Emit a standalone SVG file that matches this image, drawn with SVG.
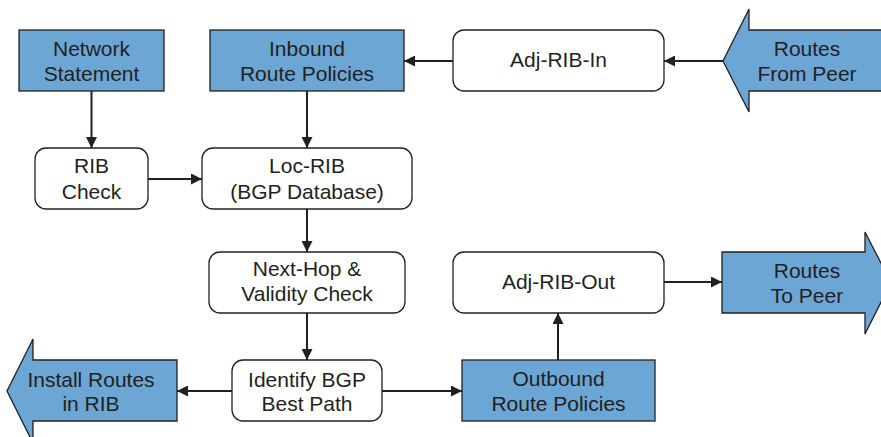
<svg xmlns="http://www.w3.org/2000/svg" width="881" height="437" viewBox="0 0 881 437">
<defs>
<marker id="ah" viewBox="0 0 11 11" refX="11" refY="5.5" markerWidth="11" markerHeight="11" markerUnits="userSpaceOnUse" orient="auto">
<path d="M0,0 L11,5.5 L0,11 Z" fill="#231f20"/>
</marker>
<style>
.blue{fill:#6ba6d5;stroke:#231f20;stroke-width:1.3}
.box{fill:#ffffff;stroke:#231f20;stroke-width:1.3}
.t{font-family:"Liberation Sans",Arial,sans-serif;font-size:21px;fill:#231f20;text-anchor:middle}
.c{fill:none;stroke:#231f20;stroke-width:2;marker-end:url(#ah)}
</style>
</defs>
<rect width="881" height="437" fill="#ffffff"/>
<g id="connectors">
<line class="c" x1="91.5" y1="91" x2="91.5" y2="148"/>
<line class="c" x1="307" y1="91" x2="307" y2="148"/>
<line class="c" x1="453" y1="61" x2="404" y2="61"/>
<line class="c" x1="723" y1="61" x2="664" y2="61"/>
<line class="c" x1="148" y1="179" x2="202" y2="179"/>
<line class="c" x1="307" y1="209" x2="307" y2="252"/>
<line class="c" x1="307" y1="313" x2="307" y2="360"/>
<line class="c" x1="232" y1="391" x2="177" y2="391"/>
<line class="c" x1="382" y1="391" x2="462" y2="391"/>
<line class="c" x1="558" y1="360" x2="558" y2="313"/>
<line class="c" x1="664" y1="282" x2="722" y2="282"/>
</g>
<g id="network-statement">
<rect class="blue" x="19" y="30" width="145" height="61"/>
<text class="t" x="91.5" y="56">Network</text>
<text class="t" x="91.5" y="81">Statement</text>
</g>
<g id="inbound-policies">
<rect class="blue" x="210" y="30" width="194" height="61"/>
<text class="t" x="307" y="56">Inbound</text>
<text class="t" x="307" y="81">Route Policies</text>
</g>
<g id="adj-rib-in">
<rect class="box" x="453" y="30" width="211" height="61" rx="11"/>
<text class="t" x="558.5" y="67">Adj-RIB-In</text>
</g>
<g id="routes-from-peer">
<path class="blue" d="M890,30 L749,30 L749,9 L723,61 L749,112 L749,91 L890,91"/>
<text class="t" x="807" y="56">Routes</text>
<text class="t" x="807" y="81">From Peer</text>
</g>
<g id="rib-check">
<rect class="box" x="35" y="148" width="113" height="61" rx="11"/>
<text class="t" x="91.5" y="173">RIB</text>
<text class="t" x="91.5" y="199">Check</text>
</g>
<g id="loc-rib">
<rect class="box" x="202" y="148" width="210" height="61" rx="11"/>
<text class="t" x="307" y="173">Loc-RIB</text>
<text class="t" x="307" y="199">(BGP Database)</text>
</g>
<g id="next-hop">
<rect class="box" x="209" y="252" width="196" height="61" rx="11"/>
<text class="t" x="307" y="276">Next-Hop &amp;</text>
<text class="t" x="307" y="301">Validity Check</text>
</g>
<g id="best-path">
<rect class="box" x="232" y="360" width="150" height="61" rx="11"/>
<text class="t" x="307" y="387">Identify BGP</text>
<text class="t" x="307" y="411">Best Path</text>
</g>
<g id="install-routes">
<path class="blue" d="M177,360 L33,360 L33,339 L7,391 L33,443 L33,421 L177,421 Z"/>
<text class="t" x="91" y="387">Install Routes</text>
<text class="t" x="91" y="411">in RIB</text>
</g>
<g id="adj-rib-out">
<rect class="box" x="453" y="252" width="211" height="61" rx="11"/>
<text class="t" x="558.5" y="289">Adj-RIB-Out</text>
</g>
<g id="routes-to-peer">
<path class="blue" d="M722,252 L865,252 L865,232 L891,282.5 L865,334 L865,313 L722,313 Z"/>
<text class="t" x="807" y="278">Routes</text>
<text class="t" x="807" y="303">To Peer</text>
</g>
<g id="outbound-policies">
<rect class="blue" x="462" y="360" width="193" height="61"/>
<text class="t" x="558.5" y="386">Outbound</text>
<text class="t" x="558.5" y="411">Route Policies</text>
</g>
</svg>
